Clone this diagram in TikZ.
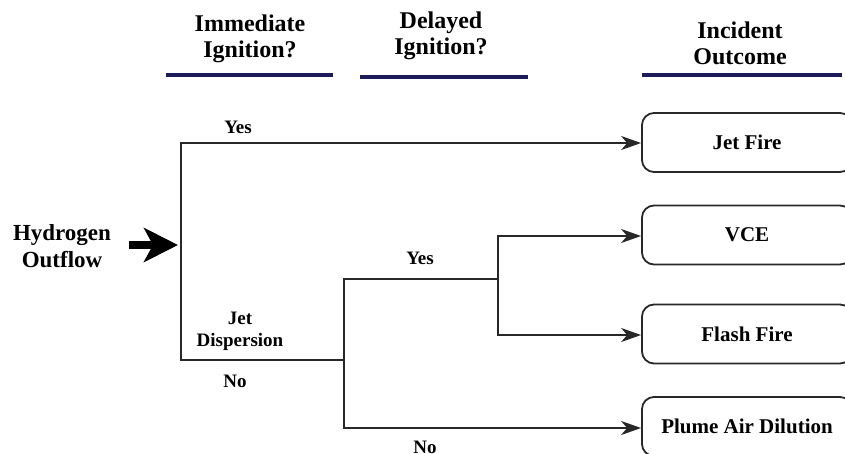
\documentclass[tikz,border=0pt]{standalone}
\usepackage{fontspec}
\setmainfont{Liberation Serif}
\usetikzlibrary{arrows.meta}
\definecolor{navy}{RGB}{28,28,90}
\definecolor{linegray}{RGB}{40,40,40}
\begin{document}
\begin{tikzpicture}[x=1pt,y=-1pt,
  hdr/.style={font=\fontsize{24}{26}\selectfont\bfseries, align=center, inner sep=0},
  ul/.style={line width=4pt, draw=navy},
  conn/.style={line width=1.8pt, draw=linegray, line cap=rect},
  arr/.style={line width=1.8pt, draw=linegray, -{Stealth[length=20pt,width=14pt,inset=6pt]}},
  outbox/.style={draw=linegray, line width=1.8pt, rounded corners=12pt, minimum width=210pt, minimum height=59pt, font=\fontsize{21}{23}\selectfont\bfseries, inner sep=0},
  lbl/.style={font=\fontsize{19}{22}\selectfont\bfseries, align=center, inner sep=0},
  src/.style={font=\fontsize{23}{27}\selectfont\bfseries, align=center, inner sep=0}]
\useasboundingbox[fill=white] (0,0) rectangle (845,453);

% headers
\node[hdr] (h1) at (250,39) {Immediate\\Ignition?};
\node[hdr] (h2) at (441,36) {Delayed\\Ignition?};
\node[hdr] (h3) at (740,43) {Incident\\Outcome};
\draw[ul] (166,75) coordinate (u1a) -- (333,75) coordinate (u1b);
\draw[ul] (360,77) coordinate (u2a) -- (528,77) coordinate (u2b);
\draw[ul] (642,75) coordinate (u3a) -- (842,75) coordinate (u3b);

% outcome boxes
\node[outbox] (jet) at (747,142.5) {Jet Fire};
\node[outbox] (vce) at (747,235) {VCE};
\node[outbox] (flash) at (747,334) {Flash Fire};
\node[outbox] (plume) at (747,426.5) {Plume Air Dilution};

% source
\node[src] (hyd) at (62,246) {Hydrogen\\Outflow};
\coordinate (inflow) at (178,245);
\draw[line width=8pt, -{Stealth[length=34pt,width=34pt,inset=9pt]}] ([xshift=18pt]hyd.east |- inflow) -- (inflow);

% junctions
\coordinate (a) at (181,143);
\coordinate (b) at (181,360);
\coordinate (c) at (344,360);
\coordinate (c1) at (344,279);
\coordinate (c2) at (344,428);
\coordinate (d) at (498,279);
\coordinate (d1) at (498,236);
\coordinate (d2) at (498,335);

\draw[conn] (a) -- (b) -- (c);
\draw[arr] (a) -- (a -| jet.west);
\draw[conn] (c1) -- (c2);
\draw[conn] (c1) -- (d);
\draw[conn] (d1) -- (d2);
\draw[arr] (d1) -- (d1 -| vce.west);
\draw[arr] (d2) -- (d2 -| flash.west);
\draw[arr] (c2) -- (c2 -| plume.west);

% labels
\node[lbl] (yes1) at (238,127) {Yes};
\node[lbl] (jd) at (240,331) {Jet\\Dispersion};
\node[lbl] (no1) at (235,381) {No};
\node[lbl] (yes2) at (420,258) {Yes};
\node[lbl] (no2) at (425,447) {No};
\end{tikzpicture}
\end{document}
